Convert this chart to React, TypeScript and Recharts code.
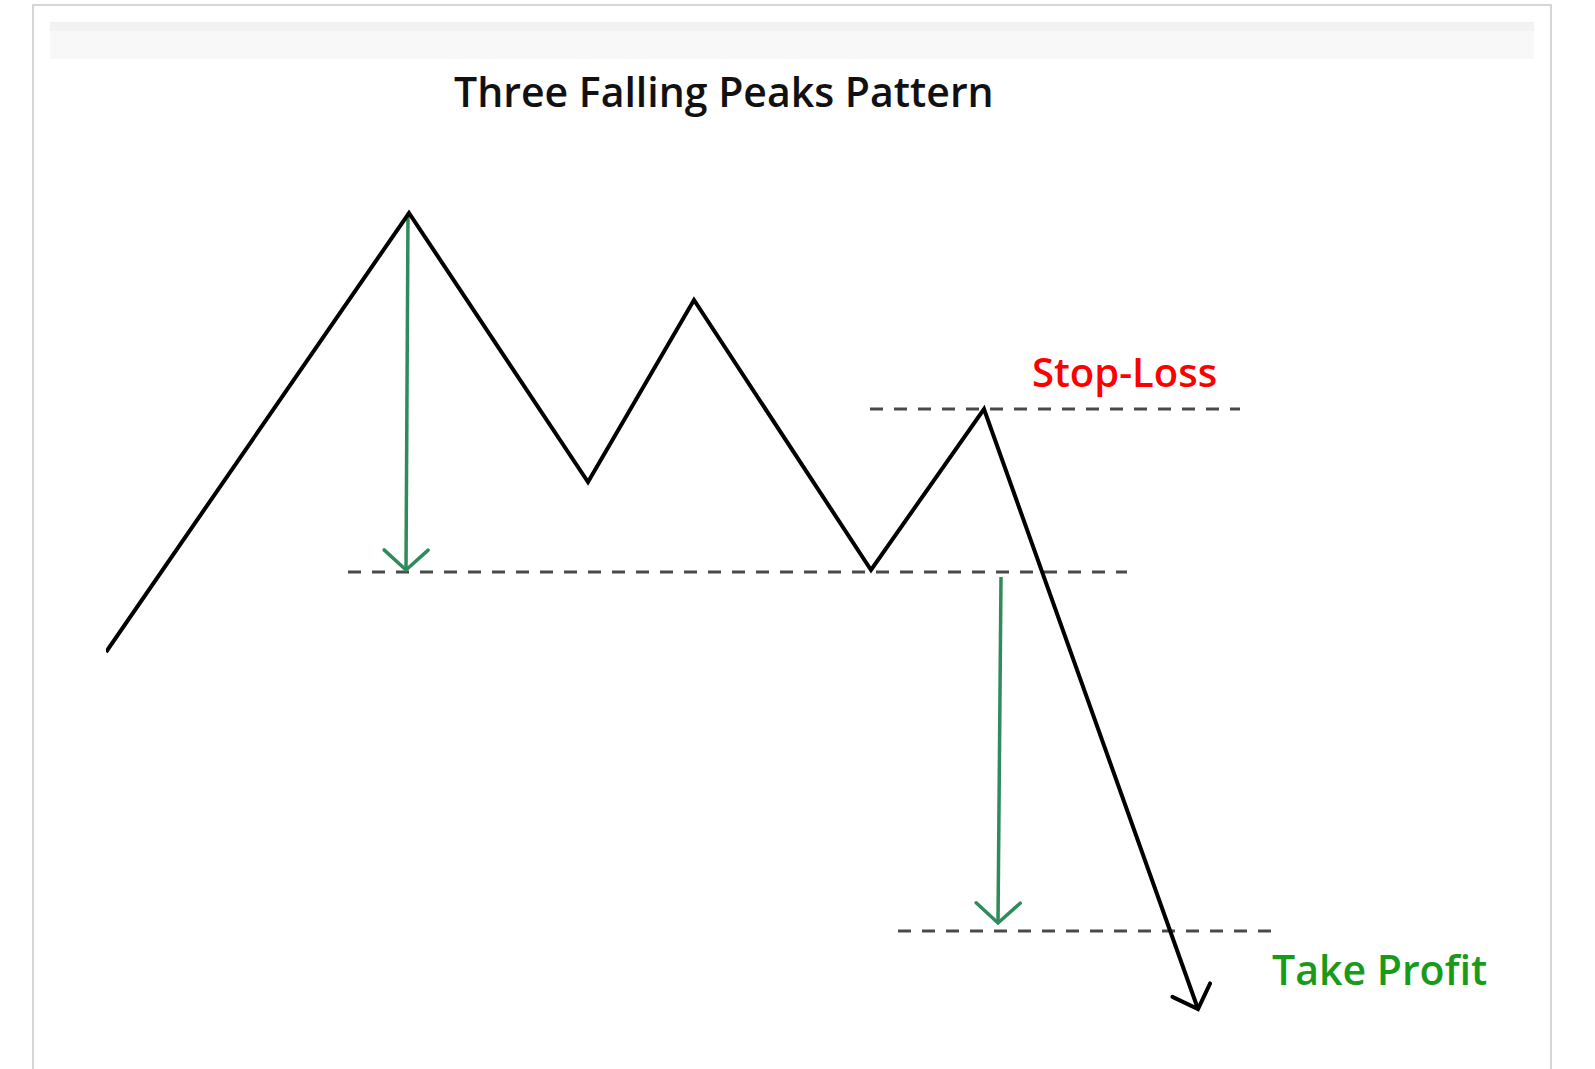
import { Line, LineChart, XAxis, YAxis } from "recharts";
import { JSX } from "react";

// bar index / price (neckline = 100)
const swingBars = [0, 30.3, 48.2, 58.8, 76.5, 87.8, 109.2];
const swingPrices = [92, 135.9, 109, 127.2, 100.2, 116.3, 56.3];

const necklineBars = [24.2, 102.1];
const necklinePrice = 100;
const stopBars = [76.4, 113.4];
const stopPrice = 116.3;
const targetBars = [79.2, 116.6];
const targetPrice = 64.1;

const heightMoveBars = [30.2, 30.0];
const heightMovePrices = [135.9, 100.2];
const projectBars = [89.5, 89.2];
const projectPrices = [99.5, 64.9];

const title = "Three Falling Peaks Pattern";
const stopLabel = "Stop-Loss";
const targetLabel = "Take Profit";

const pairs = (xs: number[], ys: number[]) => xs.map((t, i) => ({ t, p: ys[i] }));
const flat = (xs: number[], p: number) => xs.map((t) => ({ t, p }));

const swing = pairs(swingBars, swingPrices);
const neckline = flat(necklineBars, necklinePrice);
const stopLine = flat(stopBars, stopPrice);
const targetLine = flat(targetBars, targetPrice);
const heightMove = pairs(heightMoveBars, heightMovePrices);
const projectMove = pairs(projectBars, projectPrices);

const font = "'Open Sans', 'Noto Sans', sans-serif";

export default function App(): JSX.Element {
  const dashed = {
    type: "linear" as const,
    dataKey: "p",
    stroke: "#4a4a4a",
    strokeWidth: 3,
    strokeDasharray: "13 11",
    dot: false,
    activeDot: false,
    isAnimationActive: false,
  };
  return (
    <div style={{ position: "absolute", left: 0, top: 0, width: 1595, height: 1069, background: "#fff", overflow: "hidden" }}>
      <div
        style={{
          position: "absolute",
          left: 32,
          top: 4,
          width: 1516,
          height: 1080,
          border: "2px solid #d6d6d6",
          borderBottom: "none",
        }}
      />
      <div style={{ position: "absolute", left: 50, top: 22, width: 1484, height: 9, background: "#f2f2f2" }} />
      <div style={{ position: "absolute", left: 50, top: 31, width: 1484, height: 28, background: "#f8f8f8" }} />

      <div style={{ position: "absolute", left: 0, top: 0 }}>
        <LineChart width={1595} height={1069} margin={{ top: 172, right: 289, bottom: 47, left: 106 }}>
          <defs>
            <marker id="headBlack" viewBox="-25 -25 30 50" refX={0} refY={0} markerWidth={30} markerHeight={50} markerUnits="userSpaceOnUse" orient="auto">
              <path d="M -20 -20 L 0 0 L -20 20" fill="none" stroke="#000" strokeWidth={4} strokeLinecap="round" />
            </marker>
            <marker id="headGreen" viewBox="-25 -25 30 50" refX={0} refY={0} markerWidth={30} markerHeight={50} markerUnits="userSpaceOnUse" orient="auto">
              <path d="M -20 -22 L 0 0 L -20 22" fill="none" stroke="#2e8b5c" strokeWidth={3.5} strokeLinecap="round" />
            </marker>
          </defs>
          <XAxis type="number" dataKey="t" domain={[0, 120]} hide allowDataOverflow />
          <YAxis type="number" dataKey="p" domain={[55, 140]} hide allowDataOverflow />
          <Line data={neckline} {...dashed} />
          <Line data={stopLine} {...dashed} />
          <Line data={targetLine} {...dashed} />
          <Line
            data={heightMove}
            type="linear"
            dataKey="p"
            stroke="#2e8b5c"
            strokeWidth={3.5}
            dot={false}
            activeDot={false}
            markerEnd="url(#headGreen)"
            isAnimationActive={false}
          />
          <Line
            data={projectMove}
            type="linear"
            dataKey="p"
            stroke="#2e8b5c"
            strokeWidth={3.5}
            dot={false}
            activeDot={false}
            markerEnd="url(#headGreen)"
            isAnimationActive={false}
          />
          <Line
            data={swing}
            type="linear"
            dataKey="p"
            stroke="#000"
            strokeWidth={4}
            dot={false}
            activeDot={false}
            markerEnd="url(#headBlack)"
            isAnimationActive={false}
          />
        </LineChart>
      </div>

      <div style={{ position: "absolute", left: 454, top: 63, fontFamily: font, fontSize: 41, fontWeight: 600, lineHeight: "56px", color: "#111", whiteSpace: "nowrap" }}>
        {title}
      </div>
      <div style={{ position: "absolute", left: 1032, top: 344, fontFamily: font, fontSize: 40, fontWeight: 600, lineHeight: "56px", color: "#ff0000", whiteSpace: "nowrap" }}>
        {stopLabel}
      </div>
      <div style={{ position: "absolute", left: 1272, top: 941, fontFamily: font, fontSize: 41, fontWeight: 600, lineHeight: "56px", color: "#1a9a1a", whiteSpace: "nowrap" }}>
        {targetLabel}
      </div>
    </div>
  );
}
